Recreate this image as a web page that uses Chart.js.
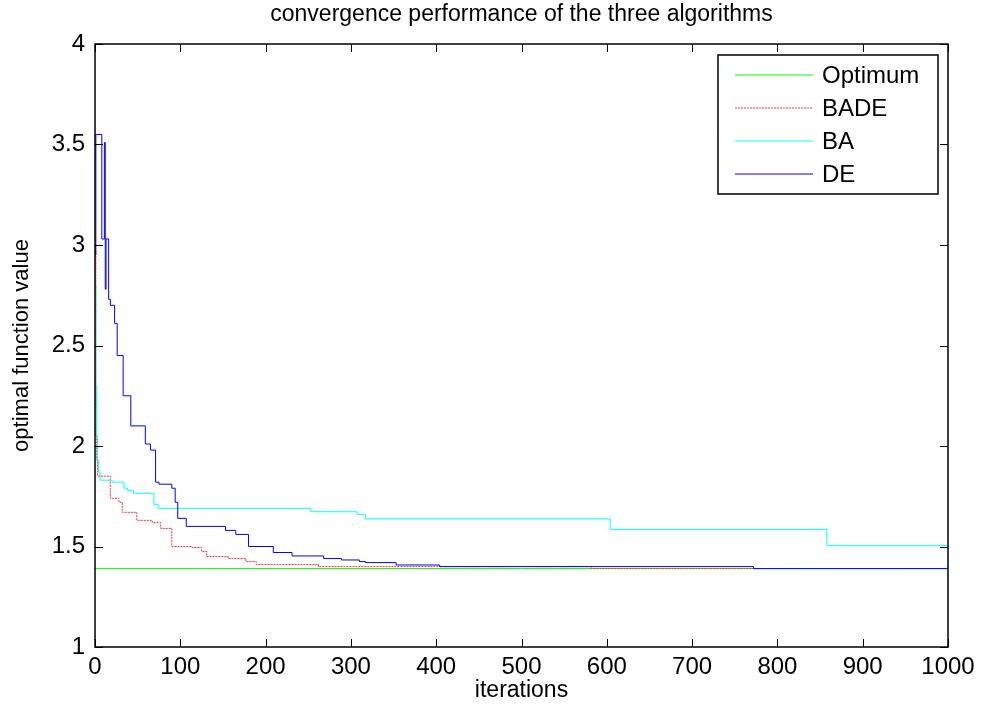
<!DOCTYPE html>
<html>
<head>
<meta charset="utf-8">
<title>convergence performance of the three algorithms</title>
<script src="https://cdn.jsdelivr.net/npm/chart.js@4.4.0/dist/chart.umd.min.js"></script>
<style>
  html, body { margin: 0; padding: 0; background: #fff; }
  #wrap { width: 982px; height: 709px; }
</style>
</head>
<body>
<div id="wrap"><canvas id="convChart"></canvas></div>
<script>
// values (iteration where the value starts, value)
const optimumIter = [0, 1000];
const optimumVal = [1.39, 1.39];

const badeIter = [0, 1, 2, 3, 18, 28, 32, 49, 67, 77, 90, 114, 125, 131, 156, 177, 189, 262, 582, 772];
const badeVal = [2.97, 2.05, 1.93, 1.85, 1.74, 1.72, 1.67, 1.63, 1.62, 1.59, 1.50, 1.495, 1.475, 1.45, 1.44, 1.425, 1.41, 1.40, 1.39, 1.39];

const baIter = [0, 1, 2, 3, 4, 6, 20, 34, 38, 45, 69, 74, 253, 307, 317, 604, 858, 1000];
const baVal = [2.8, 2.3, 2.05, 1.93, 1.87, 1.83, 1.82, 1.79, 1.78, 1.765, 1.71, 1.69, 1.673, 1.66, 1.637, 1.585, 1.504, 1.504];

const deIter = [0, 1, 8, 11, 12, 13, 16, 18, 23, 26, 33, 42, 59, 65, 71, 75, 90, 94, 97, 107, 153, 165, 180, 209, 231, 268, 289, 310, 317, 353, 404, 772, 1000];
const deVal = [2.95, 3.55, 3.03, 3.51, 2.78, 3.03, 2.73, 2.70, 2.61, 2.45, 2.25, 2.10, 2.01, 1.98, 1.82, 1.81, 1.79, 1.72, 1.64, 1.60, 1.58, 1.56, 1.50, 1.47, 1.453, 1.44, 1.433, 1.425, 1.42, 1.408, 1.40, 1.39, 1.39];

const xTicks = [0, 100, 200, 300, 400, 500, 600, 700, 800, 900, 1000];
const yTicks = [1, 1.5, 2, 2.5, 3, 3.5, 4];

const FONT = "'Liberation Sans', Arial, sans-serif";

function toPoints(xs, ys) {
    return xs.map((x, i) => ({ x: x, y: ys[i] }));
}

// matlab style box, inward ticks, title and legend
const matlabFrame = {
    id: "matlabFrame",
    afterDraw(chart) {
        const { ctx, chartArea: a, scales } = chart;
        const len = 8;
        ctx.save();
        ctx.strokeStyle = "#000";
        ctx.lineWidth = 1;
        ctx.beginPath();
        xTicks.forEach((t) => {
            const px = Math.round(scales.x.getPixelForValue(t)) + 0.5;
            ctx.moveTo(px, a.bottom); ctx.lineTo(px, a.bottom - len);
            ctx.moveTo(px, a.top); ctx.lineTo(px, a.top + len);
        });
        yTicks.forEach((t) => {
            const py = Math.round(scales.y.getPixelForValue(t)) + 0.5;
            ctx.moveTo(a.left, py); ctx.lineTo(a.left + len, py);
            ctx.moveTo(a.right, py); ctx.lineTo(a.right - len, py);
        });
        ctx.stroke();
        ctx.lineWidth = 1.5;
        ctx.strokeRect(a.left, a.top, a.right - a.left, a.bottom - a.top);

        // title
        ctx.fillStyle = "#000";
        ctx.font = "23px " + FONT;
        ctx.textAlign = "center";
        ctx.textBaseline = "middle";
        ctx.fillText("convergence performance of the three algorithms", (a.left + a.right) / 2, 15);

        // legend
        const bx = 718, by = 55, bw = 220, bh = 139;
        ctx.fillStyle = "#fff";
        ctx.fillRect(bx, by, bw, bh);
        ctx.lineWidth = 1.5;
        ctx.strokeRect(bx, by, bw, bh);
        ctx.textAlign = "left";
        ctx.font = "24px " + FONT;
        chart.data.datasets.forEach((ds, i) => {
            const y = 75 + i * 33;
            ctx.save();
            ctx.strokeStyle = ds.borderColor;
            ctx.lineWidth = 1;
            ctx.setLineDash(ds.borderDash || []);
            ctx.beginPath();
            ctx.moveTo(735, y);
            ctx.lineTo(813, y);
            ctx.stroke();
            ctx.restore();
            ctx.fillStyle = "#000";
            ctx.fillText(ds.label, 822, y + 1);
        });
        ctx.restore();
    },
};

const ctx = document.getElementById("convChart").getContext("2d");
const chart = new Chart(ctx, {
    type: "line",
    data: {
        datasets: [
            { label: "Optimum", data: toPoints(optimumIter, optimumVal), borderColor: "#00ff00", order: 3 },
            { label: "BADE", data: toPoints(badeIter, badeVal), borderColor: "#ff3030", borderDash: [2, 1], order: 2 },
            { label: "BA", data: toPoints(baIter, baVal), borderColor: "#00ffff", order: 1 },
            { label: "DE", data: toPoints(deIter, deVal), borderColor: "#0000ff", order: 0 },
        ],
    },
    options: {
        responsive: true,
        maintainAspectRatio: false,
        animation: false,
        layout: { padding: { top: 44, right: 34, left: 0, bottom: 0 } },
        elements: {
            point: { radius: 0 },
            line: { borderWidth: 1, stepped: "before", tension: 0 },
        },
        plugins: {
            legend: { display: false },
            tooltip: { enabled: false },
            title: { display: false },
        },
        scales: {
            x: {
                type: "linear",
                min: 0,
                max: 1000,
                grid: { display: false, drawTicks: false },
                border: { display: false },
                afterBuildTicks: (s) => { s.ticks = xTicks.map((v) => ({ value: v })); },
                afterFit: (s) => { s.height = 62; },
                ticks: {
                    color: "#000",
                    padding: 6,
                    maxRotation: 0,
                    font: { family: FONT, size: 24 },
                    callback: (v) => String(v),
                },
                title: {
                    display: true,
                    text: "iterations",
                    color: "#000",
                    font: { family: FONT, size: 23 },
                    padding: { top: 0, bottom: 5 },
                },
            },
            y: {
                min: 1,
                max: 4,
                grid: { display: false, drawTicks: false },
                border: { display: false },
                afterBuildTicks: (s) => { s.ticks = yTicks.map((v) => ({ value: v })); },
                afterFit: (s) => { s.width = 95; },
                ticks: {
                    color: "#000",
                    padding: 10,
                    font: { family: FONT, size: 24 },
                    callback: (v) => String(v),
                },
                title: {
                    display: true,
                    text: "optimal function value",
                    color: "#000",
                    font: { family: FONT, size: 22 },
                    padding: { top: 9, bottom: 0 },
                },
            },
        },
    },
    plugins: [matlabFrame],
});
</script>
</body>
</html>
